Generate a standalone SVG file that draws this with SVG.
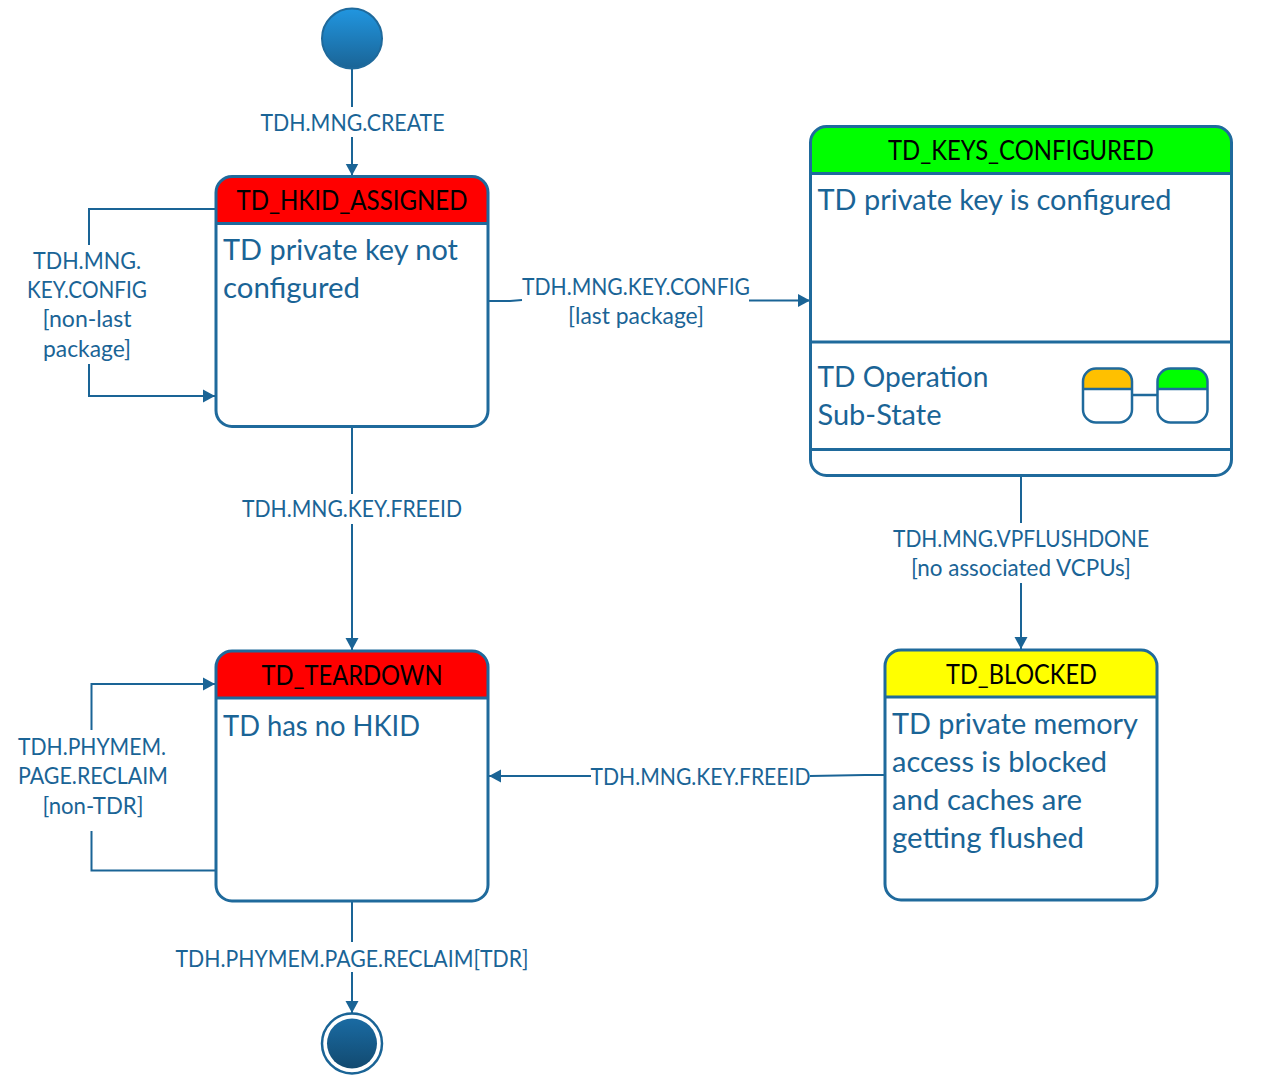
<svg xmlns="http://www.w3.org/2000/svg" width="1262" height="1080" viewBox="0 0 1262 1080">
<style>
text{font-family:Lato,"Noto Sans","Liberation Sans",sans-serif}
.l{font-size:23px;fill:#1a6496;text-anchor:middle}
.b{font-size:29px;fill:#1a6496}
.h{font-size:26px;fill:#000;text-anchor:middle}
.box{fill:none;stroke:#1f6a9c;stroke-width:3}
.div{stroke:#1f6a9c;stroke-width:3;fill:none}
.c{fill:none;stroke:#1a6496;stroke-width:2;marker-end:url(#a)}
.n{fill:none;stroke:#1a6496;stroke-width:2}
</style>
<defs>
<marker id="a" markerUnits="userSpaceOnUse" markerWidth="13" markerHeight="14" refX="12" refY="7" orient="auto"><path d="M0 0.500L12 7L0 13.500Z" fill="#1a6496"/></marker>
<linearGradient id="g1" x1="0" y1="0" x2="0" y2="1"><stop offset="0" stop-color="#2196e0"/><stop offset="1" stop-color="#1a6496"/></linearGradient>
<linearGradient id="g2" x1="0" y1="0" x2="0" y2="1"><stop offset="0" stop-color="#1a6ba3"/><stop offset="1" stop-color="#124a70"/></linearGradient>
</defs>
<rect width="1262" height="1080" fill="#fff"/>
<g id="connectors">
<path class="n" d="M352 69V107"/><path class="c" d="M352 137V175.500"/>
<path class="n" d="M216 209H89V245"/><path class="c" d="M89 364V396H215"/>
<path class="n" d="M489 301H510L522 300"/><path class="c" d="M749 300.500H810"/>
<path class="n" d="M352 427V494"/><path class="c" d="M352 524V650"/>
<path class="n" d="M1021 476V523"/><path class="c" d="M1021 583V649"/>
<path class="n" d="M885 775H865L810 776"/><path class="c" d="M591 776H489"/>
<path class="n" d="M216 870.500H91.500V831"/><path class="c" d="M91.500 730V684H215"/>
<path class="n" d="M352 902V942"/><path class="c" d="M352 972V1013"/>
<g>
<text class="l" x="352.500" y="130.500" textLength="184" lengthAdjust="spacingAndGlyphs">TDH.MNG.CREATE</text>
<text class="l" x="87" y="268.500" textLength="108" lengthAdjust="spacingAndGlyphs">TDH.MNG.</text>
<text class="l" x="87" y="297.500" textLength="120" lengthAdjust="spacingAndGlyphs">KEY.CONFIG</text>
<text class="l" x="87" y="327" textLength="89" lengthAdjust="spacingAndGlyphs">[non-last</text>
<text class="l" x="87" y="357" textLength="88" lengthAdjust="spacingAndGlyphs">package]</text>
<text class="l" x="636" y="294.500" textLength="228" lengthAdjust="spacingAndGlyphs">TDH.MNG.KEY.CONFIG</text>
<text class="l" x="636" y="324" textLength="136" lengthAdjust="spacingAndGlyphs">[last package]</text>
<text class="l" x="352" y="517" textLength="220" lengthAdjust="spacingAndGlyphs">TDH.MNG.KEY.FREEID</text>
<text class="l" x="1021" y="546.500" textLength="256" lengthAdjust="spacingAndGlyphs">TDH.MNG.VPFLUSHDONE</text>
<text class="l" x="1021" y="576" textLength="220" lengthAdjust="spacingAndGlyphs">[no associated VCPUs]</text>
<text class="l" x="700.500" y="784.500" textLength="220" lengthAdjust="spacingAndGlyphs">TDH.MNG.KEY.FREEID</text>
<text class="l" x="92" y="754.500" textLength="148" lengthAdjust="spacingAndGlyphs">TDH.PHYMEM.</text>
<text class="l" x="93" y="784" textLength="150" lengthAdjust="spacingAndGlyphs">PAGE.RECLAIM</text>
<text class="l" x="93" y="813.500" textLength="101" lengthAdjust="spacingAndGlyphs">[non-TDR]</text>
<text class="l" x="352" y="966.500" textLength="353" lengthAdjust="spacingAndGlyphs">TDH.PHYMEM.PAGE.RECLAIM[TDR]</text>
</g>
</g>
<g id="start"><circle cx="352" cy="38.500" r="30" fill="url(#g1)" stroke="#1f6a9c" stroke-width="2"/></g>
<g id="end"><circle cx="352" cy="1043.500" r="30" fill="#fff" stroke="#1a6496" stroke-width="2.500"/><circle cx="352" cy="1043.500" r="25" fill="url(#g2)"/></g>
<g id="td-hkid-assigned">
<path d="M216 223V193a16 16 0 0 1 16-16H472a16 16 0 0 1 16 16V223Z" fill="#f00"/>
<rect class="box" x="216" y="176.500" width="272" height="250" rx="16"/>
<path class="div" d="M216 223.500H488"/>
<text class="h" x="352" y="209.500" textLength="231" lengthAdjust="spacingAndGlyphs">TD_HKID_ASSIGNED</text>
<text class="b" x="223" y="260" textLength="235" lengthAdjust="spacingAndGlyphs">TD private key not</text>
<text class="b" x="223" y="298" textLength="137" lengthAdjust="spacingAndGlyphs">configured</text>
</g>
<g id="td-keys-configured">
<path d="M810.500 173V143a16 16 0 0 1 16-16H1215a16 16 0 0 1 16 16V173Z" fill="#0f0"/>
<rect class="box" x="810.500" y="126.500" width="421" height="349" rx="16"/>
<path class="div" d="M810.500 173.500H1231.500M810.500 342H1231.500M810.500 449.500H1231.500"/>
<text class="h" x="1021" y="159.500" textLength="266" lengthAdjust="spacingAndGlyphs">TD_KEYS_CONFIGURED</text>
<text class="b" x="817.500" y="210" textLength="354" lengthAdjust="spacingAndGlyphs">TD private key is configured</text>
<text class="b" x="817.500" y="387" textLength="171" lengthAdjust="spacingAndGlyphs">TD Operation</text>
<text class="b" x="817.500" y="425" textLength="124" lengthAdjust="spacingAndGlyphs">Sub-State</text>
<path d="M1083 389V380a11 11 0 0 1 11-11H1121a11 11 0 0 1 11 11V389Z" fill="#ffc000"/>
<rect x="1083" y="368.500" width="49" height="54" rx="13" fill="none" stroke="#1f6a9c" stroke-width="2.500"/>
<path d="M1083 389H1132" stroke="#1f6a9c" stroke-width="2.500"/>
<path d="M1132 395H1157.500" stroke="#1f6a9c" stroke-width="2.500"/>
<path d="M1157.500 389V380a11 11 0 0 1 11-11H1196a11 11 0 0 1 11 11V389Z" fill="#0f0"/>
<rect x="1157.500" y="368.500" width="50" height="54" rx="13" fill="none" stroke="#1f6a9c" stroke-width="2.500"/>
<path d="M1157.500 389H1207.500" stroke="#1f6a9c" stroke-width="2.500"/>
</g>
<g id="td-teardown">
<path d="M216 698V667a16 16 0 0 1 16-16H472a16 16 0 0 1 16 16V698Z" fill="#f00"/>
<rect class="box" x="216" y="651" width="272" height="250" rx="16"/>
<path class="div" d="M216 698H488"/>
<text class="h" x="352" y="684.500" textLength="181" lengthAdjust="spacingAndGlyphs">TD_TEARDOWN</text>
<text class="b" x="223" y="735.500" textLength="197" lengthAdjust="spacingAndGlyphs">TD has no HKID</text>
</g>
<g id="td-blocked">
<path d="M885 697V666a16 16 0 0 1 16-16H1141a16 16 0 0 1 16 16V697Z" fill="#ff0"/>
<rect class="box" x="885" y="650" width="272" height="250" rx="16"/>
<path class="div" d="M885 697H1157"/>
<text class="h" x="1021.500" y="683.500" textLength="151" lengthAdjust="spacingAndGlyphs">TD_BLOCKED</text>
<text class="b" x="892" y="734" textLength="246" lengthAdjust="spacingAndGlyphs">TD private memory</text>
<text class="b" x="892" y="772" textLength="215" lengthAdjust="spacingAndGlyphs">access is blocked</text>
<text class="b" x="892" y="810" textLength="190" lengthAdjust="spacingAndGlyphs">and caches are</text>
<text class="b" x="892" y="848" textLength="192" lengthAdjust="spacingAndGlyphs">getting flushed</text>
</g>
</svg>
